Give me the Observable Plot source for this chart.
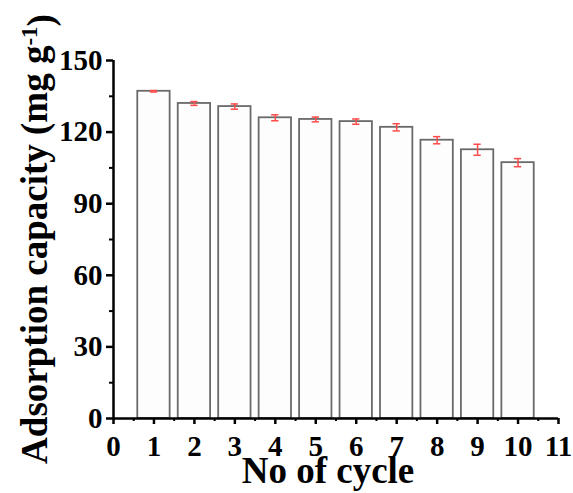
<!DOCTYPE html>
<html>
<head>
<meta charset="utf-8">
<script src="https://cdn.jsdelivr.net/npm/d3@7"></script>
<script src="https://cdn.jsdelivr.net/npm/@observablehq/plot@0.6"></script>
<style>
  html, body { margin: 0; padding: 0; background: #fff; }
</style>
</head>
<body>
<div id="chart"></div>
<script>
const cycles = [1, 2, 3, 4, 5, 6, 7, 8, 9, 10];
const capacity = [137.1, 132.0, 130.7, 126.0, 125.3, 124.4, 122.0, 116.6, 112.6, 107.2];
const errors = [0.3, 0.8, 1.1, 1.25, 1.0, 1.1, 1.5, 1.5, 2.3, 1.7];
const xTicks = [0, 1, 2, 3, 4, 5, 6, 7, 8, 9, 10, 11];
const xMinorTicks = [0.5, 1.5, 2.5, 3.5, 4.5, 5.5, 6.5, 7.5, 8.5, 9.5, 10.5];
const yTicks = [0, 30, 60, 90, 120, 150];
const yMinorTicks = [15, 45, 75, 105, 135];
const xTitle = "No of cycle";
const yTitleMain = "Adsorption capacity (mg g";
const yTitleSup = "-1";
const yTitleEnd = ")";

const data = cycles.map((c, i) => ({c, v: capacity[i], e: errors[i]}));
const font = "'Liberation Serif', 'Times New Roman', serif";
const red = "#ff4a4a";

const chart = Plot.plot({
  width: 573,
  height: 493,
  marginLeft: 113,
  marginRight: 15,
  marginTop: 60,
  marginBottom: 75,
  style: {fontFamily: font, fontWeight: "bold", fontSize: "29px", background: "#fff", color: "#000"},
  x: {domain: [0, 11]},
  y: {domain: [0, 150]},
  marks: [
    Plot.rectY(data, {x1: d => d.c - 0.4, x2: d => d.c + 0.4, y1: 0, y2: "v", fill: "#fdfdfd", stroke: "#6a6a6a", strokeWidth: 1.8}),
    Plot.ruleX(data, {x: "c", y1: d => d.v - d.e, y2: d => d.v + d.e, stroke: red, strokeWidth: 1.5}),
    Plot.ruleY(data, {x1: d => d.c - 0.09, x2: d => d.c + 0.09, y: d => d.v + d.e, stroke: red, strokeWidth: 1.5}),
    Plot.ruleY(data, {x1: d => d.c - 0.09, x2: d => d.c + 0.09, y: d => d.v - d.e, stroke: red, strokeWidth: 1.5}),
    Plot.axisX({ticks: xTicks, tickSize: 6, tickPadding: 11, tickFormat: d => String(d), label: null, strokeWidth: 2.5, fontSize: 29, fontFamily: font}),
    Plot.axisX({ticks: xMinorTicks, tickSize: 3, tickFormat: () => "", label: null, strokeWidth: 2}),
    Plot.axisY({ticks: yTicks, tickSize: 7, tickPadding: 4, tickFormat: d => String(d), label: null, strokeWidth: 2.5, fontSize: 29, fontFamily: font}),
    Plot.axisY({ticks: yMinorTicks, tickSize: 4, tickFormat: () => "", label: null, strokeWidth: 2}),
    Plot.ruleY([0], {stroke: "#000", strokeWidth: 2.5}),
    Plot.ruleX([0], {stroke: "#000", strokeWidth: 2.5})
  ]
});

const svg = d3.select(chart);
svg.append("text")
  .attr("x", 328).attr("y", 483)
  .attr("text-anchor", "middle")
  .style("font-family", font).style("font-weight", "bold").style("font-size", "37px")
  .attr("fill", "#000")
  .text(xTitle);

const yt = svg.append("text")
  .attr("transform", "translate(47,239) rotate(-90)")
  .attr("text-anchor", "middle")
  .style("font-family", font).style("font-weight", "bold").style("font-size", "37px")
  .attr("fill", "#000");
yt.append("tspan").text(yTitleMain);
yt.append("tspan").attr("dy", "-0.45em").style("font-size", "23px").text(yTitleSup);
yt.append("tspan").attr("dy", "0.45em").text(yTitleEnd);

document.getElementById("chart").appendChild(chart);
</script>
</body>
</html>
